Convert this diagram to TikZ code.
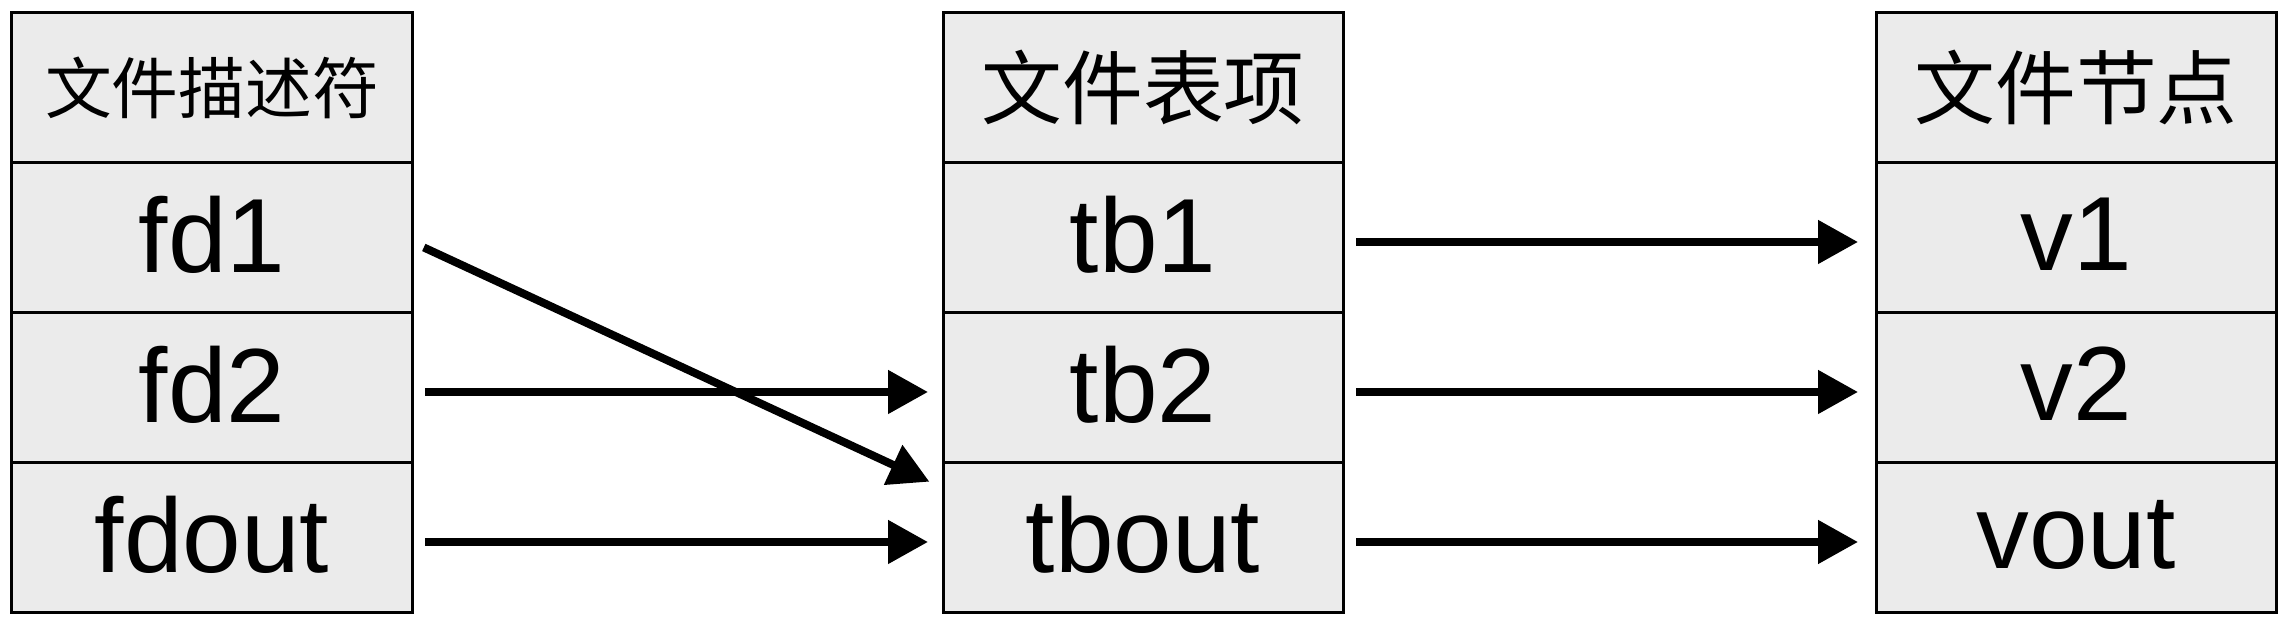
\documentclass[tikz,border=0pt]{standalone}
\usepackage{fontspec}
\setmainfont{Liberation Sans}
\newfontfamily\cjk{Noto Sans CJK SC}
\usetikzlibrary{positioning,arrows.meta}

\definecolor{cellgray}{RGB}{235,235,235}

\tikzset{
  cell/.style={draw, fill=cellgray, line width=0.03cm, inner sep=0pt, outer sep=0pt,
    minimum width=4cm, minimum height=1.5cm, text depth=0.08cm,
    font=\fontsize{30pt}{36pt}\selectfont},
  head/.style={cell, text depth=, font=\cjk\fontsize{23pt}{28pt}\selectfont},
  link/.style={line width=0.08cm, -{Triangle[length=0.4cm,width=0.42cm]},
    shorten <=0.13cm, shorten >=0.15cm}
}

\begin{document}
\begin{tikzpicture}
      \useasboundingbox (0, 0) rectangle (22.84, 6.24);
      % file descriptors
      \node [head, font=\cjk\fontsize{19pt}{24pt}\selectfont] (fdh) at (2.12, 5.36) {文件描述符};
      \node [cell, below=0pt of fdh] (fd1) {fd1};
      \node [cell, below=0pt of fd1] (fd2) {fd2};
      \node [cell, below=0pt of fd2] (fdout) {fdout};
      % file table
      \node [head] (tbh) at (11.43, 5.36) {文件表项};
      \node [cell, below=0pt of tbh] (tb1) {tb1};
      \node [cell, below=0pt of tb1] (tb2) {tb2};
      \node [cell, below=0pt of tb2] (tbout) {tbout};
      % vnodes
      \node [head] (vh) at (20.76, 5.36) {文件节点};
      \node [cell, below=0pt of vh] (v1) {v1};
      \node [cell, below=0pt of v1] (v2) {v2};
      \node [cell, below=0pt of v2] (vout) {vout};

      \draw [link] ([yshift=-0.04cm]fd1.east) -- ([yshift=0.5cm]tbout.west);
      \foreach \a/\b in {fd2/tb2, fdout/tbout} {
        \draw [link] ([yshift=-0.04cm]\a.east) -- ([yshift=-0.04cm]\b.west);
      }
      \foreach \a/\b in {tb1/v1, tb2/v2, tbout/vout} {
        \draw [link, shorten >=0.18cm] ([yshift=-0.04cm]\a.east) -- ([yshift=-0.04cm]\b.west);
      }
    \end{tikzpicture}
\end{document}
